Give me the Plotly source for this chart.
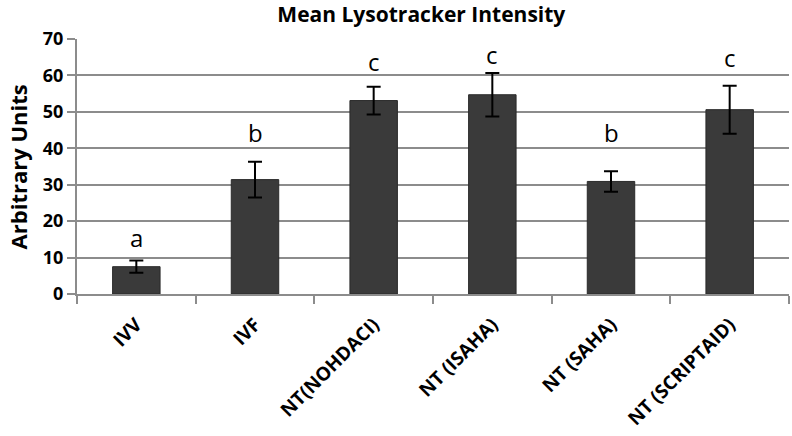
import plotly.graph_objects as go

# === data ===
groups = ["IVV", "IVF", "NT(NOHDACI)", "NT (ISAHA)", "NT (SAHA)", "NT (SCRIPTAID)"]
means = [7.5, 31.4, 53.1, 54.7, 30.9, 50.6]
errors = [1.7, 4.9, 3.8, 6.0, 2.8, 6.6]
letters = ["a", "b", "c", "c", "b", "c"]
letter_y = [15.6, 44.2, 63.7, 65.8, 44.2, 64.8]

# === style ===
FONT = "Open Sans"
GRID = "#8c8c8c"
BAR = "#3a3a3a"

fig = go.Figure()
fig.add_trace(go.Bar(
    x=groups,
    y=means,
    marker=dict(color=BAR, line=dict(color="#2a2a2a", width=1)),
    error_y=dict(type="data", array=errors, color="black", thickness=2, width=7),
    width=0.4,
    showlegend=False,
))

for g, t, ly in zip(groups, letters, letter_y):
    fig.add_annotation(
        x=g, y=ly, text=t, showarrow=False,
        xanchor="center", yanchor="middle",
        font=dict(family=FONT, size=24, color="black"),
    )

# y-axis title placed by hand (sits close to the left edge in the original)
fig.add_annotation(
    text="Arbitrary Units", textangle=-90, showarrow=False,
    xref="paper", yref="paper", x=-0.083, y=0.5,
    xanchor="center", yanchor="middle",
    font=dict(family=FONT, size=22, color="black", weight="bold"),
)

fig.update_layout(
    width=792,
    height=436,
    paper_bgcolor="white",
    plot_bgcolor="white",
    margin=dict(l=77, r=3, t=39, b=142),
    title=dict(
        text="Mean Lysotracker Intensity",
        x=0.532, xref="container", xanchor="center",
        y=0.9656, yref="container", yanchor="middle",
        font=dict(family=FONT, size=21, color="black", weight="bold"),
    ),
    font=dict(family=FONT, color="black"),
)

fig.update_xaxes(
    type="category",
    automargin=False,
    showline=True, linecolor=GRID, linewidth=2,
    ticks="outside", tickson="boundaries", ticklen=8, tickcolor=GRID, tickwidth=1.5,
    tickangle=-45,
    ticklabelstandoff=10,
    tickfont=dict(family=FONT, size=19, color="black", weight="bold"),
    showgrid=False,
)
fig.update_yaxes(
    range=[0, 70], dtick=10,
    automargin=False,
    showline=True, linecolor=GRID, linewidth=2,
    showgrid=True, gridcolor=GRID, gridwidth=2,
    zeroline=False,
    ticks="outside", ticklen=8, tickcolor=GRID, tickwidth=2,
    tickfont=dict(family=FONT, size=18, color="black", weight="bold"),
)

# drop the default 8px page margin so the figure sits at the window origin
fig.write_html(
    "out.html",
    config={"displayModeBar": False},
    post_script="document.body.style.margin='0';",
)
